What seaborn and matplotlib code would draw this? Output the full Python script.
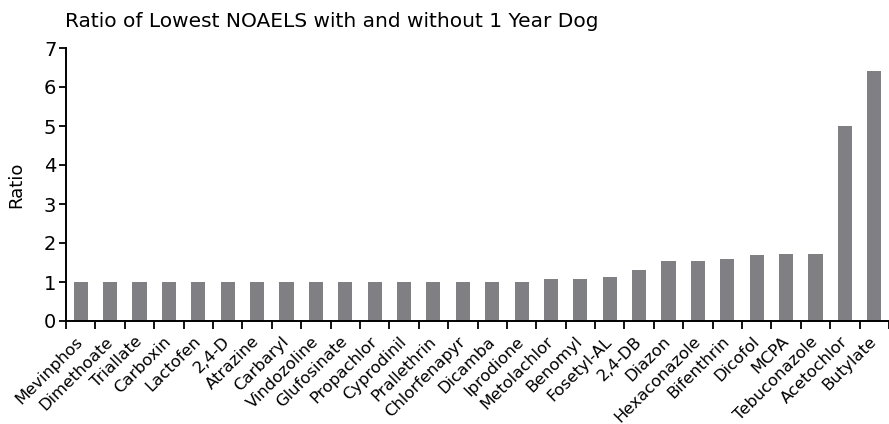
import matplotlib
matplotlib.use("Agg")
import matplotlib.pyplot as plt
import seaborn as sns
import pandas as pd
import numpy as np
from matplotlib.ticker import FixedLocator

chemicals = ["Mevinphos", "Dimethoate", "Triallate", "Carboxin", "Lactofen", "2,4-D",
             "Atrazine", "Carbaryl", "Vindozoline", "Glufosinate", "Propachlor", "Cyprodinil",
             "Prallethrin", "Chlorfenapyr", "Dicamba", "Iprodione", "Metolachlor", "Benomyl",
             "Fosetyl-AL", "2,4-DB", "Diazon", "Hexaconazole", "Bifenthrin", "Dicofol",
             "MCPA", "Tebuconazole", "Acetochlor", "Butylate"]
ratios = [1.0] * 16 + [1.07, 1.07, 1.12, 1.3, 1.53, 1.53, 1.58, 1.68, 1.72, 1.72, 5.0, 6.4]

df = pd.DataFrame({"Chemical": chemicals, "Ratio": ratios})

sns.set_style("white")
plt.rcParams['font.family'] = ['DejaVu Sans']
plt.rcParams['text.color'] = 'black'
plt.rcParams['axes.labelcolor'] = 'black'
plt.rcParams['xtick.color'] = 'black'
plt.rcParams['ytick.color'] = 'black'

fig = plt.figure(figsize=(8.89, 4.24), dpi=100)
ax = fig.add_axes([66/889, 1 - 321/424, (889-66)/889, (321-48)/424])

sns.barplot(data=df, x="Chemical", y="Ratio", color="#808084", width=0.48,
            saturation=1, ax=ax, edgecolor="none")

ax.set_xlim(-0.5, len(chemicals) - 0.5)
ax.set_ylim(0, 7)
ax.set_yticks(range(0, 8))
ax.tick_params(axis="y", labelsize=14, length=5, width=1.3, direction="out", pad=2, left=True)
ax.set_xticks(range(len(chemicals)))
ax.set_xticklabels(chemicals, rotation=45, ha="right", va="center",
                   rotation_mode="anchor", fontsize=11.8)
ax.tick_params(axis="x", which="major", length=0, pad=13, bottom=True)
ax.xaxis.set_minor_locator(FixedLocator(np.arange(-0.5, len(chemicals), 1.0)))
ax.tick_params(axis="x", which="minor", length=6, width=1.3, direction="out", bottom=True)

for s in ["top", "right"]:
    ax.spines[s].set_visible(False)
for s in ["left", "bottom"]:
    ax.spines[s].set_linewidth(1.4)
    ax.spines[s].set_color("black")

ax.set_xlabel("")
ax.set_ylabel("Ratio", fontsize=13, labelpad=13)
fig.text(65/889, 1 - 27/424, "Ratio of Lowest NOAELS with and without 1 Year Dog",
         fontsize=14.5, ha="left", va="baseline")

fig.savefig("out.png", dpi=100)
